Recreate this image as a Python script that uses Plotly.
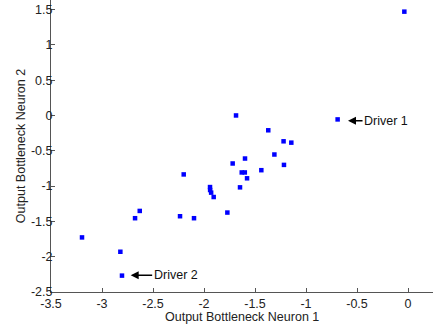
import plotly.graph_objects as go

neuron1 = [-0.036, -1.686, -0.69, -1.37, -1.22, -1.144, -1.31, -1.598, -1.719, -1.216,
           -1.63, -1.60, -1.438, -1.578, -1.647, -1.941, -1.94, -1.93, -1.905, -1.771,
           -2.199, -2.63, -2.676, -2.235, -2.098, -3.196, -2.82, -2.804]
neuron2 = [1.47, 0.0, -0.056, -0.21, -0.366, -0.385, -0.553, -0.61, -0.68, -0.70,
           -0.807, -0.807, -0.775, -0.89, -1.018, -1.014, -1.056, -1.093, -1.155, -1.375,
           -0.835, -1.352, -1.455, -1.427, -1.455, -1.727, -1.93, -2.268]

x_ticks = [-3.5, -3, -2.5, -2, -1.5, -1, -0.5, 0]
x_tick_labels = ["-3.5", "-3", "-2.5", "-2", "-1.5", "-1", "-0.5", "0"]
y_ticks = [-2.5, -2, -1.5, -1, -0.5, 0, 0.5, 1, 1.5]
y_tick_labels = ["-2.5", "-2", "-1.5", "-1", "-0.5", "0", "0.5", "1", "1.5"]

labels = ["Driver 1", "Driver 2"]
label_x = [-0.588, -2.719]
label_y = [-0.075, -2.262]
label_dx = [38, 45]

FONT = "Arial, Liberation Sans, sans-serif"

fig = go.Figure()
fig.add_trace(go.Scatter(
    x=neuron1, y=neuron2, mode="markers",
    marker=dict(symbol="square", size=4.5, color="rgb(0,0,255)", line=dict(width=0)),
    showlegend=False, hoverinfo="skip"))

for t, xx, yy, dx in zip(labels, label_x, label_y, label_dx):
    fig.add_annotation(x=xx, y=yy, text=t, showarrow=True, ax=dx, ay=0,
                       arrowhead=2, arrowsize=1, arrowwidth=1.6, arrowcolor="black",
                       font=dict(family=FONT, size=12.5, color="#111"))

# x-axis title placed as paper-referenced text (sits tight under the tick labels)
fig.add_annotation(text="Output Bottleneck Neuron 1", xref="paper", yref="paper",
                   x=0.5, y=-0.087, xanchor="center", yanchor="middle", showarrow=False,
                   font=dict(family=FONT, size=12.5, color="#222"))

axis_common = dict(showgrid=False, zeroline=False, showline=True, linecolor="#555",
                   linewidth=1, ticks="inside", ticklen=4, tickcolor="#555", mirror=False,
                   automargin=False,
                   tickfont=dict(family=FONT, size=12.5, color="#222"))

fig.update_layout(
    width=433, height=327,
    margin=dict(l=51, r=0, t=0, b=35),
    paper_bgcolor="white", plot_bgcolor="white",
    xaxis=dict(range=[-3.5, 0.245], tickvals=x_ticks, ticktext=x_tick_labels,
               **axis_common),
    yaxis=dict(range=[-2.5, 1.635], tickvals=y_ticks, ticktext=y_tick_labels,
               ticklabelstandoff=-5,
               title=dict(text="Output Bottleneck Neuron 2", standoff=2,
                          font=dict(family=FONT, size=12.5, color="#222")),
               **axis_common),
)

fig.write_html("out.html", config={"displayModeBar": False},
               post_script="document.body.style.margin='0px';")
